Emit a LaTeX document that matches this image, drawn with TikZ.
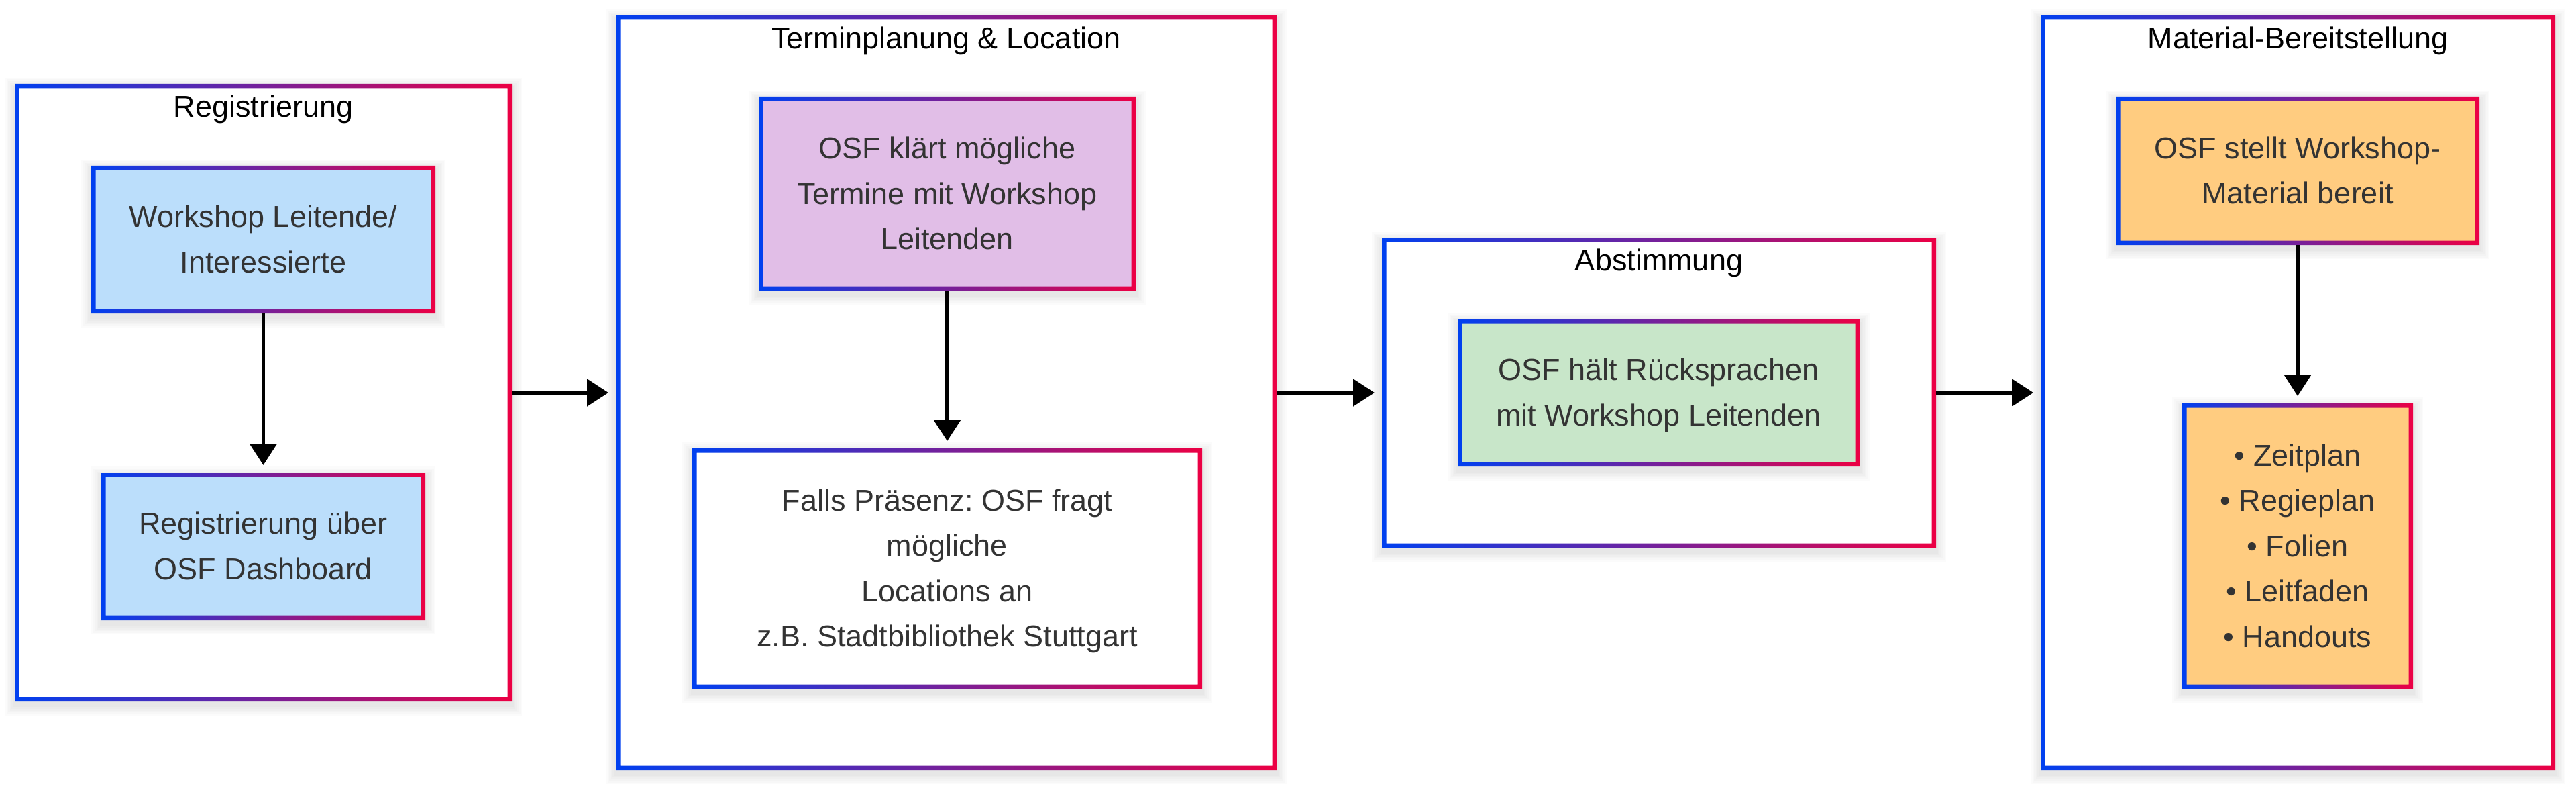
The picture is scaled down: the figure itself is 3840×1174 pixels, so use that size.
\documentclass[tikz,border=0pt]{standalone}
\usepackage{fontspec}
\setmainfont{Liberation Sans}
\usetikzlibrary{arrows.meta}
\frenchspacing
\definecolor{gB}{RGB}{0,64,240}
\definecolor{gR}{RGB}{236,0,68}
\definecolor{txt}{RGB}{51,51,51}
\definecolor{fBlue}{HTML}{BBDEFB}
\definecolor{fPurple}{HTML}{E1BEE7}
\definecolor{fGreen}{HTML}{C8E6C9}
\definecolor{fOrange}{HTML}{FFCC80}
\newcommand{\sL}{\rule[-18.2pt]{0pt}{67.5pt}}
\newcommand{\gborder}[1]{\shade[left color=gB, right color=gR, even odd rule] (#1.north west) rectangle (#1.south east) ([shift={(6.5,6.5)}]#1.north west) rectangle ([shift={(-6.5,-6.5)}]#1.south east);}
\newcommand{\softsh}[1]{\foreach \k in {1,...,6}{\fill[black, opacity=0.014] ([shift={({-2.5*\k},{-2.5*\k+6})}]#1.north west) rectangle ([shift={({2.5*\k},{2.5*\k+6})}]#1.south east);}}
\pgfdeclarelayer{bgl}\pgfdeclarelayer{shC}\pgfdeclarelayer{cont}\pgfdeclarelayer{shI}
\pgfsetlayers{bgl,shC,cont,shI,main}
\tikzset{
  contbox/.style={rectangle, anchor=north west, fill=white, inner sep=0pt, outer sep=0pt},
  stepbox/.style={rectangle, anchor=north west, inner sep=0pt, outer sep=0pt, align=center, text=txt,
    font=\fontsize{45pt}{67.5pt}\selectfont},
  ttl/.style={anchor=north, inner sep=0pt, outer sep=0pt, text=black, font=\fontsize{45pt}{67.5pt}\selectfont},
  arr/.style={line width=5.5pt, black, -{Triangle[length=32pt,width=40pt]}, shorten >=11pt},
}
\begin{document}
\begin{tikzpicture}[x=1pt, y=-1pt]
\begin{pgfonlayer}{bgl}
\fill[white] (0,0) rectangle (3840,1174);
\end{pgfonlayer}
\useasboundingbox (0,0) rectangle (3840,1174);

\begin{pgfonlayer}{cont}
\node[contbox, minimum width=741pt, minimum height=920pt] (C1) at (22,125) {};
\node[contbox, minimum width=985pt, minimum height=1124pt] (C2) at (918,23) {};
\node[contbox, minimum width=826pt, minimum height=462pt] (C3) at (2060,354) {};
\node[contbox, minimum width=767pt, minimum height=1124pt] (C4) at (3042,23) {};
\gborder{C1}\gborder{C2}\gborder{C3}\gborder{C4}
\node[ttl] (T1) at (C1.north) {\sL Registrierung};
\node[ttl] (T2) at (C2.north) {\sL Terminplanung \& Location};
\node[ttl] (T3) at (C3.north) {\sL Abstimmung};
\node[ttl] (T4) at (C4.north) {\sL Material-Bereitstellung};
\end{pgfonlayer}

\begin{pgfonlayer}{shC}
\softsh{C1}\softsh{C2}\softsh{C3}\softsh{C4}
\end{pgfonlayer}

\node[stepbox, fill=fBlue, minimum width=513pt, minimum height=220pt] (A) at (136,247)
  {\sL Workshop Leitende/\\\sL Interessierte};
\node[stepbox, fill=fBlue, minimum width=483pt, minimum height=220pt] (B) at (151,704)
  {\sL Registrierung über\\\sL OSF Dashboard};
\node[stepbox, fill=fPurple, minimum width=562pt, minimum height=289pt] (C) at (1131,144)
  {\sL OSF klärt mögliche\\\sL Termine mit Workshop\\\sL Leitenden};
\node[stepbox, fill=white, minimum width=760pt, minimum height=358pt] (D) at (1032,668)
  {\sL Falls Präsenz: OSF fragt\\\sL mögliche\\\sL Locations an\\\sL z.B. Stadtbibliothek Stuttgart};
\node[stepbox, fill=fGreen, minimum width=599pt, minimum height=220pt] (E) at (2173,475)
  {\sL OSF hält Rücksprachen\\\sL mit Workshop Leitenden};
\node[stepbox, fill=fOrange, minimum width=542pt, minimum height=221pt] (F) at (3154,144)
  {\sL OSF stellt Workshop-\\\sL Material bereit};
\node[stepbox, fill=fOrange, minimum width=344pt, minimum height=425pt] (G) at (3253,601)
  {\sL • Zeitplan\\\sL • Regieplan\\\sL • Folien\\\sL • Leitfaden\\\sL • Handouts};
\gborder{A}\gborder{B}\gborder{C}\gborder{D}\gborder{E}\gborder{F}\gborder{G}

\begin{pgfonlayer}{shI}
\softsh{A}\softsh{B}\softsh{C}\softsh{D}\softsh{E}\softsh{F}\softsh{G}
\end{pgfonlayer}

\draw[arr] (A.south) -- (B.north);
\draw[arr] (C.south) -- (D.north);
\draw[arr] (F.south) -- (G.north);
\draw[arr] (C1.east) -- (C2.west);
\draw[arr] (C2.east) -- (C3.west);
\draw[arr] (C3.east) -- (C4.west);
\end{tikzpicture}
\end{document}
